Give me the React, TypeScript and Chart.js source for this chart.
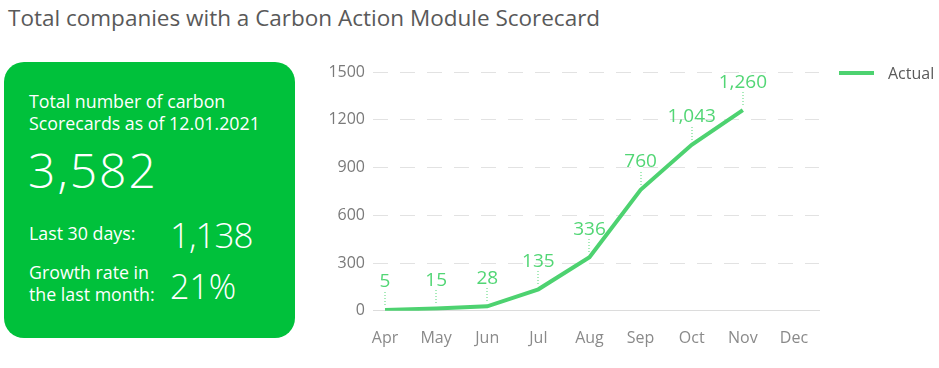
import React, { useEffect, useRef } from "react";
import { Chart, registerables } from "chart.js";

Chart.register(...registerables);

const categories = ["Apr", "May", "Jun", "Jul", "Aug", "Sep", "Oct", "Nov", "Dec"];
const actualValues: (number | null)[] = [5, 15, 28, 135, 336, 760, 1043, 1260, null];
const yTicks = [0, 300, 600, 900, 1200, 1500];
const seriesLabel = "Actual";

const FONT = "'Open Sans', 'DejaVu Sans', sans-serif";
const LINE_GREEN = "#4dd270";
const LABEL_GREEN = "#52d675";

const dataLabelPlugin = {
  id: "dataLabels",
  afterDatasetsDraw(chart: any) {
    const ctx = chart.ctx;
    const meta = chart.getDatasetMeta(0);
    ctx.save();
    meta.data.forEach((pt: any, i: number) => {
      const v = actualValues[i];
      if (v == null) return;
      const x = pt.x;
      const y = pt.y;
      ctx.fillStyle = LABEL_GREEN;
      for (let yy = y - 18; yy <= y - 6; yy += 3) {
        ctx.fillRect(Math.round(x) - 0.5, Math.round(yy), 1, 1);
      }
      ctx.font = `19px ${FONT}`;
      ctx.textAlign = "center";
      ctx.textBaseline = "middle";
      ctx.fillText(v.toLocaleString("en-US"), x, y - 28);
    });
    ctx.restore();
  },
};

const legendPlugin = {
  id: "customLegend",
  afterDraw(chart: any) {
    const ctx = chart.ctx;
    const area = chart.chartArea;
    const ds = chart.data.datasets[0];
    const y = area.top + 1;
    ctx.save();
    ctx.strokeStyle = ds.borderColor;
    ctx.lineWidth = 4;
    ctx.beginPath();
    ctx.moveTo(area.right + 20, y);
    ctx.lineTo(area.right + 55, y);
    ctx.stroke();
    ctx.fillStyle = "#5a5a5a";
    ctx.font = `16px ${FONT}`;
    ctx.textAlign = "left";
    ctx.textBaseline = "middle";
    ctx.fillText(ds.label, area.right + 69, y + 1);
    ctx.restore();
  },
};

function LineChart() {
  const ref = useRef<HTMLCanvasElement | null>(null);
  useEffect(() => {
    if (!ref.current) return;
    const chart = new Chart(ref.current, {
      type: "line",
      data: {
        datasets: [
          {
            label: seriesLabel,
            data: actualValues.map((v, i) => ({ x: i, y: v })) as any,
            borderColor: LINE_GREEN,
            backgroundColor: LINE_GREEN,
            borderWidth: 4,
            pointRadius: 0,
            pointHoverRadius: 0,
            tension: 0,
            spanGaps: false,
          },
        ],
      },
      options: {
        animation: false,
        responsive: false,
        maintainAspectRatio: false,
        layout: { padding: { top: 32, right: 120, bottom: 0, left: 0 } },
        plugins: { legend: { display: false }, tooltip: { enabled: false } },
        scales: {
          x: {
            type: "linear",
            min: -0.235,
            max: 8.49,
            afterBuildTicks: (s: any) => {
              s.ticks = categories.map((_, i) => ({ value: i }));
            },
            ticks: {
              autoSkip: false,
              maxRotation: 0,
              padding: 18,
              color: "#8a8a8a",
              font: { family: FONT, size: 16 },
              callback: (v: any) => categories[v as number] ?? "",
            },
            grid: { display: false, drawTicks: false },
            border: { display: true, color: "#dcdcdc", width: 1 },
          },
          y: {
            min: 0,
            max: 1500,
            afterBuildTicks: (s: any) => {
              s.ticks = yTicks.map((v) => ({ value: v }));
            },
            afterFit: (s: any) => {
              s.width = 73;
            },
            ticks: {
              padding: 8,
              color: "#7a7a7a",
              font: { family: FONT, size: 16 },
              callback: (v: any) => String(v),
            },
            grid: { color: "#e2e2e2", lineWidth: 1, drawTicks: false },
            border: { display: false, dash: [15, 12] },
          },
        },
      },
      plugins: [dataLabelPlugin, legendPlugin],
    } as any);
    return () => chart.destroy();
  }, []);
  return <canvas ref={ref} width={639} height={326} style={{ position: "absolute", left: 300, top: 40, width: 639, height: 326 }} />;
}

export default function App() {
  return (
    <div style={{ position: "absolute", left: 0, top: 0, width: 939, height: 368, background: "#fff", fontFamily: FONT, overflow: "hidden" }}>
      <div style={{ position: "absolute", left: 8, top: 3, fontSize: 22.5, color: "#595959", whiteSpace: "nowrap", lineHeight: "30px" }}>
        Total companies with a Carbon Action Module Scorecard
      </div>
      <div style={{ position: "absolute", left: 4, top: 62, width: 291, height: 276, background: "#00c13b", borderRadius: 20, color: "#fff" }}>
        <div style={{ position: "absolute", left: 25, top: 28, fontSize: 17.8, lineHeight: "22px", whiteSpace: "nowrap" }}>
          Total number of carbon<br />Scorecards as of 12.01.2021
        </div>
        <div style={{ position: "absolute", left: 24, top: 80, fontSize: 48, fontWeight: 300, letterSpacing: 2, lineHeight: "56px", whiteSpace: "nowrap" }}>3,582</div>
        <div style={{ position: "absolute", left: 25, top: 160, fontSize: 17.8, lineHeight: "22px", whiteSpace: "nowrap" }}>Last 30 days:</div>
        <div style={{ position: "absolute", left: 166, top: 151, fontSize: 35, fontWeight: 300, letterSpacing: -1, lineHeight: "44px", whiteSpace: "nowrap" }}>1,138</div>
        <div style={{ position: "absolute", left: 25, top: 199, fontSize: 17.8, lineHeight: "22px", whiteSpace: "nowrap" }}>
          Growth rate in<br />the last month:
        </div>
        <div style={{ position: "absolute", left: 166, top: 202, fontSize: 34, fontWeight: 300, lineHeight: "44px", whiteSpace: "nowrap" }}>21%</div>
      </div>
      <LineChart />
    </div>
  );
}
